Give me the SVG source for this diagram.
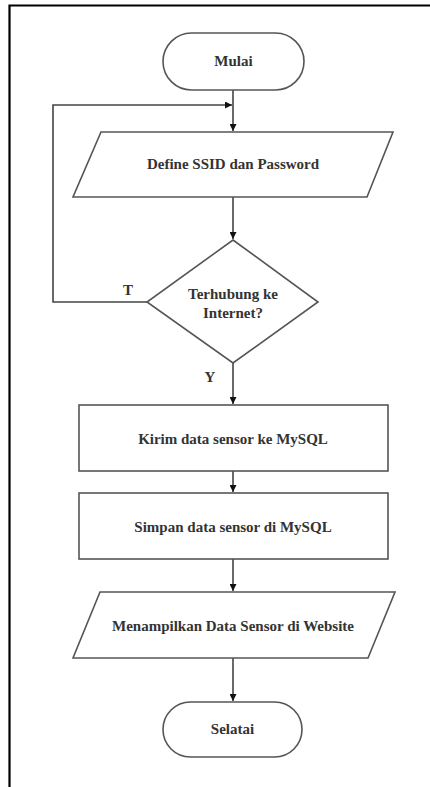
<svg xmlns="http://www.w3.org/2000/svg" width="430" height="787" viewBox="0 0 430 787">
<defs>
<marker id="ah" viewBox="0 0 10 10" refX="10" refY="5" markerWidth="7" markerHeight="7" markerUnits="userSpaceOnUse" orient="auto">
<path d="M0,0 L10,5 L0,10 z" fill="#111"/>
</marker>
<style>
.s{fill:#fff;stroke:#555;stroke-width:1.6}
.c{fill:none;stroke:#444;stroke-width:1.6}
.t{font-family:"Liberation Serif","DejaVu Serif","Times New Roman",serif;font-size:15px;font-weight:bold;fill:#333;text-anchor:middle}
</style>
</defs>
<rect x="0" y="0" width="430" height="787" fill="#fff"/>
<path d="M9.5,787 L9.5,5.5 L430,5.5" fill="none" stroke="#000" stroke-width="2.2"/>
<g id="connectors">
<line class="c" x1="233" y1="90" x2="233" y2="131" marker-end="url(#ah)"/>
<polyline class="c" points="147,302 53,302 53,105 232,105" marker-end="url(#ah)"/>
<line class="c" x1="233" y1="197" x2="233" y2="239" marker-end="url(#ah)"/>
<line class="c" x1="233" y1="363" x2="233" y2="404" marker-end="url(#ah)"/>
<line class="c" x1="233" y1="471" x2="233" y2="492" marker-end="url(#ah)"/>
<line class="c" x1="233" y1="559" x2="233" y2="591" marker-end="url(#ah)"/>
<line class="c" x1="233" y1="658" x2="233" y2="701" marker-end="url(#ah)"/>
<text class="t" x="128" y="295">T</text>
<text class="t" x="210" y="382">Y</text>
</g>
<g id="mulai">
<rect class="s" x="163" y="33" width="141" height="57" rx="28.5" ry="28.5"/>
<text class="t" x="233.5" y="66">Mulai</text>
</g>
<g id="define">
<polygon class="s" points="101,132 393,132 367,197 73,197"/>
<text class="t" x="233" y="169">Define SSID dan Password</text>
</g>
<g id="decision">
<polygon class="s" points="233,240 318,302 233,363 147,302"/>
<text class="t" x="233" y="299">Terhubung ke</text>
<text class="t" x="233" y="318">Internet?</text>
</g>
<g id="kirim">
<rect class="s" x="79" y="405" width="309" height="66"/>
<text class="t" x="233" y="444">Kirim data sensor ke MySQL</text>
</g>
<g id="simpan">
<rect class="s" x="79" y="493" width="309" height="66"/>
<text class="t" x="233" y="532">Simpan data sensor di MySQL</text>
</g>
<g id="tampil">
<polygon class="s" points="100,592 395,592 368,658 73,658"/>
<text class="t" x="233" y="631">Menampilkan Data Sensor di Website</text>
</g>
<g id="selesai">
<rect class="s" x="163" y="702" width="139" height="55" rx="27.5" ry="27.5"/>
<text class="t" x="232.5" y="734">Selatai</text>
</g>
</svg>
